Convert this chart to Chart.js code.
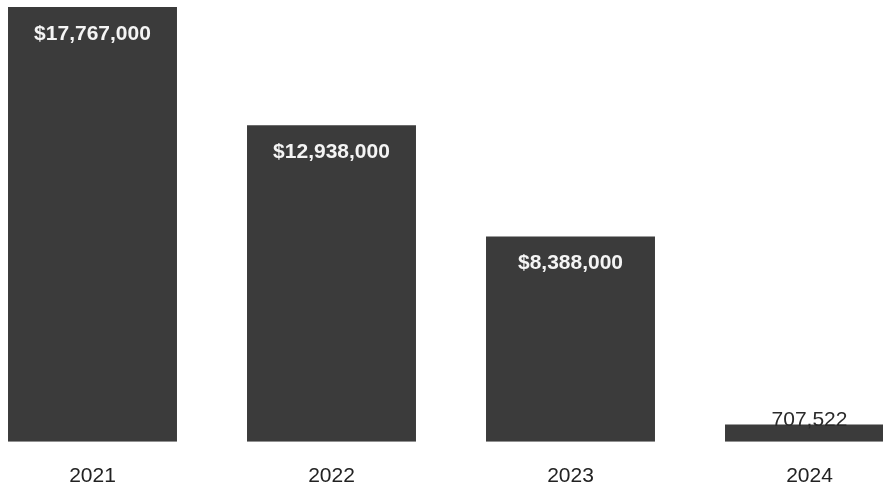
<!DOCTYPE html>
<html>
<head>
<meta charset="utf-8">
<script src="https://cdn.jsdelivr.net/npm/chart.js@4.4.1/dist/chart.umd.min.js"></script>
<style>
  html, body { margin: 0; padding: 0; background: #fff; overflow: hidden; }
  #wrap { position: absolute; left: -27px; top: 0; width: 956px; height: 513px; }
</style>
</head>
<body>
<div id="wrap"><canvas id="barChart"></canvas></div>
<script>
var years = ['2021', '2022', '2023', '2024'];
var amounts = [17767000, 12938000, 8388000, 707522];
var amountLabels = ['$17,767,000', '$12,938,000', '$8,388,000', '707,522'];

// value labels: white inside tall bars, dark above the small one
var valueLabels = {
    id: 'valueLabels',
    afterDatasetsDraw: function (chart) {
        var ctx = chart.ctx;
        var bars = chart.getDatasetMeta(0).data;
        ctx.save();
        ctx.textAlign = 'center';
        bars.forEach(function (bar, i) {
            if (i < 3) {
                ctx.font = 'bold 21px "Liberation Sans", Arial, sans-serif';
                ctx.fillStyle = '#f4f4f4';
                ctx.textBaseline = 'middle';
                ctx.fillText(amountLabels[i], bar.x, bar.y + 27);
            } else {
                ctx.font = '21px "Liberation Sans", Arial, sans-serif';
                ctx.fillStyle = '#2a2a2a';
                ctx.textBaseline = 'alphabetic';
                ctx.fillText(amountLabels[i], bar.x, bar.y + 2);
            }
        });
        ctx.restore();
    }
};

var ctx = document.getElementById('barChart').getContext('2d');
var myChart = new Chart(ctx, {
    type: 'bar',
    data: {
        labels: years,
        datasets: [{
            data: amounts,
            backgroundColor: '#3b3b3b',
            borderWidth: 0,
            categoryPercentage: 1.0,
            barPercentage: 0.707
        }]
    },
    options: {
        responsive: true,
        maintainAspectRatio: false,
        animation: false,
        layout: { padding: { top: 7, bottom: 2 } },
        plugins: {
            legend: { display: false },
            tooltip: { enabled: false }
        },
        scales: {
            y: {
                display: false,
                min: 0,
                max: 17767000
            },
            x: {
                grid: { display: false, drawTicks: false },
                border: { display: false },
                ticks: {
                    color: '#222',
                    padding: 22,
                    font: { family: '"Liberation Sans", Arial, sans-serif', size: 21 }
                }
            }
        }
    },
    plugins: [valueLabels]
});
</script>
</body>
</html>
